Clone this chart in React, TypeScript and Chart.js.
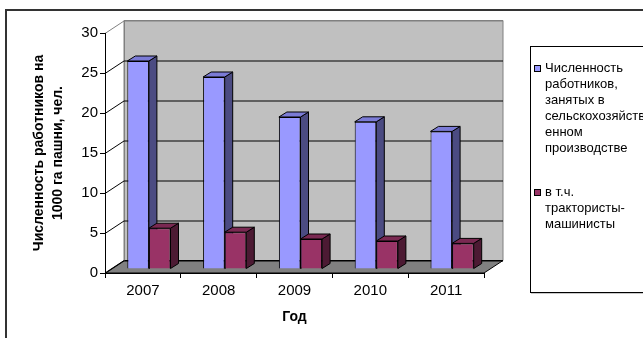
import React, { useEffect, useRef } from "react";
import { Chart, registerables } from "chart.js";

Chart.register(...registerables);

// ---- data ----
const years = ["2007", "2008", "2009", "2010", "2011"];
const workers = [26, 24, 19, 18.4, 17.2];
const tractorDrivers = [5.1, 4.6, 3.75, 3.5, 3.2];
const seriesNames = [
  "Численность работников, занятых в сельскохозяйственном производстве",
  "в т.ч. трактористы-машинисты",
];
const legendLines = [
  ["Численность", "работников,", "занятых в", "сельскохозяйств", "енном", "производстве"],
  ["в т.ч.", "трактористы-", "машинисты"],
];
const yTitle = ["Численность работников на", "1000 га пашни, чел."];
const xTitle = "Год";
const yMin = 0;
const yMax = 30;
const yStep = 5;

// ---- styles ----
const FONT = "'Liberation Sans', Arial, sans-serif";
const frontColors = ["#9999ff", "#993366"];
const topColors = ["#7b7bd6", "#7a2952"];
const sideColors = ["#4b4b82", "#4c1a33"];
const WALL = { dx: 19, dy: -12.5 };
const BAR_SHIFT = { dx: 6, dy: -4 };
const BAR_DEPTH = { dx: 8, dy: -5 };

function poly(ctx: CanvasRenderingContext2D, pts: number[][], fill: string | null, stroke: string | null) {
  ctx.beginPath();
  ctx.moveTo(pts[0][0], pts[0][1]);
  for (let i = 1; i < pts.length; i++) ctx.lineTo(pts[i][0], pts[i][1]);
  ctx.closePath();
  if (fill) {
    ctx.fillStyle = fill;
    ctx.fill();
  }
  if (stroke) {
    ctx.strokeStyle = stroke;
    ctx.lineWidth = 1;
    ctx.stroke();
  }
}

const threeD = {
  id: "threeD",
  beforeDraw(chart: any) {
    const { ctx, chartArea: a, scales } = chart;
    const y = scales.y;
    const { dx, dy } = WALL;
    ctx.save();
    // back wall
    poly(
      ctx,
      [
        [a.left + dx, a.top + dy],
        [a.right + dx, a.top + dy],
        [a.right + dx, a.bottom + dy],
        [a.left + dx, a.bottom + dy],
      ],
      "#c0c0c0",
      "#808080"
    );
    // floor
    poly(
      ctx,
      [
        [a.left, a.bottom],
        [a.right, a.bottom],
        [a.right + dx, a.bottom + dy],
        [a.left + dx, a.bottom + dy],
      ],
      "#808080",
      "#000"
    );
    // left wall edge
    ctx.strokeStyle = "#808080";
    ctx.lineWidth = 1;
    ctx.beginPath();
    ctx.moveTo(a.left + dx + 0.5, a.top + dy);
    ctx.lineTo(a.left + dx + 0.5, a.bottom + dy);
    ctx.stroke();
    // gridlines on left and back walls
    for (const t of y.ticks) {
      const py = Math.round(y.getPixelForValue(t.value)) + 0.5;
      ctx.strokeStyle = t.value === yMax ? "#808080" : "#000";
      ctx.beginPath();
      ctx.moveTo(a.left, py);
      ctx.lineTo(a.left + dx, py + dy);
      ctx.lineTo(a.right + dx, py + dy);
      ctx.stroke();
    }
    ctx.restore();
  },
  beforeDatasetsDraw(chart: any) {
    const ctx = chart.ctx as CanvasRenderingContext2D;
    ctx.save();
    ctx.translate(BAR_SHIFT.dx, BAR_SHIFT.dy);
    chart.data.datasets.forEach((_ds: any, i: number) => {
      const meta = chart.getDatasetMeta(i);
      meta.data.forEach((el: any) => {
        el.draw(ctx);
        const { x, y, base, width } = el.getProps(["x", "y", "base", "width"], true);
        const l = x - width / 2;
        const r = x + width / 2;
        const { dx, dy } = BAR_DEPTH;
        poly(ctx, [[r, y], [r + dx, y + dy], [r + dx, base + dy], [r, base]], sideColors[i], "#000");
        poly(ctx, [[l, y], [l + dx, y + dy], [r + dx, y + dy], [r, y]], topColors[i], "#000");
      });
    });
    ctx.restore();
    return false;
  },
};

export default function App() {
  const ref = useRef<HTMLCanvasElement>(null);
  useEffect(() => {
    if (!ref.current) return;
    const chart = new Chart(ref.current, {
      type: "bar",
      data: {
        labels: years,
        datasets: [
          {
            label: seriesNames[0],
            data: workers,
            backgroundColor: frontColors[0],
            borderColor: "#000",
            borderWidth: 1,
            categoryPercentage: 0.57,
            barPercentage: 1,
          },
          {
            label: seriesNames[1],
            data: tractorDrivers,
            backgroundColor: frontColors[1],
            borderColor: "#000",
            borderWidth: 1,
            categoryPercentage: 0.57,
            barPercentage: 1,
          },
        ],
      },
      options: {
        responsive: false,
        animation: false,
        layout: { padding: { left: 0, top: 33, right: 159, bottom: 0 } },
        plugins: { legend: { display: false }, tooltip: { enabled: false } },
        scales: {
          x: {
            offset: true,
            grid: { offset: true, drawOnChartArea: false, drawTicks: true, tickLength: 5, color: "#000" },
            border: { display: true, color: "#000" },
            ticks: { color: "#000", padding: 4, maxRotation: 0, font: { family: FONT, size: 15 } },
            title: {
              display: true,
              text: xTitle,
              color: "#000",
              font: { family: FONT, size: 14, weight: "bold" },
              padding: { top: 0, bottom: 12 },
            },
            afterFit: (s: any) => {
              s.height = 65;
            },
          },
          y: {
            min: yMin,
            max: yMax,
            grid: { drawOnChartArea: false, drawTicks: true, tickLength: 5, color: "#000" },
            border: { display: true, color: "#000" },
            ticks: { stepSize: yStep, color: "#000", padding: 2, font: { family: FONT, size: 15 } },
            title: {
              display: true,
              text: yTitle,
              color: "#000",
              font: { family: FONT, size: 14, weight: "bold", lineHeight: "19px" },
              padding: { top: 30, bottom: 0 },
            },
            afterFit: (s: any) => {
              s.width = 105;
            },
          },
        },
      },
      plugins: [threeD],
    } as any);
    return () => chart.destroy();
  }, []);

  return (
    <div
      style={{
        position: "fixed",
        left: 0,
        top: 0,
        width: 643,
        height: 338,
        overflow: "hidden",
        background: "#fff",
      }}
    >
      <div
        style={{
          position: "absolute",
          left: 5,
          top: 9,
          width: 800,
          height: 500,
          border: "2px solid #333",
          boxSizing: "border-box",
        }}
      />
      <canvas ref={ref} width={643} height={338} style={{ position: "absolute", left: 0, top: 0 }} />
      <div
        style={{
          position: "absolute",
          left: 530,
          top: 46,
          width: 200,
          height: 247,
          border: "1px solid #000",
          boxSizing: "border-box",
          boxShadow: "1px 1px 0 #c8c8c8",
          fontFamily: FONT,
          fontSize: 13,
          lineHeight: "16px",
          color: "#000",
          background: "#fff",
        }}
      >
        {legendLines.map((lines, i) => (
          <div key={i} style={{ position: "absolute", left: 3, top: i === 0 ? 13 : 137 }}>
            <div
              style={{
                position: "absolute",
                left: 0,
                top: 5,
                width: 5,
                height: 5,
                background: frontColors[i],
                border: "1px solid #000",
              }}
            />
            <div style={{ marginLeft: 11, whiteSpace: "nowrap" }}>
              {lines.map((ln, j) => (
                <div key={j}>{ln}</div>
              ))}
            </div>
          </div>
        ))}
      </div>
    </div>
  );
}
